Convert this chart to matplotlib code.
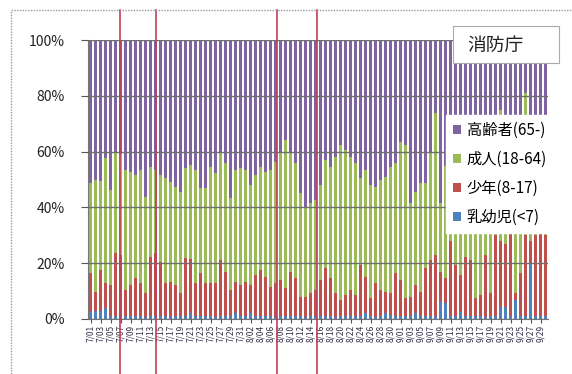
import matplotlib.pyplot as plt
import matplotlib.transforms as mtransforms
import pandas as pd
from matplotlib.lines import Line2D
from matplotlib.patches import Rectangle

plt.rcParams['font.family'] = ['Noto Sans CJK JP', 'DejaVu Sans']

# Daily share of emergency transports by age group (%), Jul 1 - Sep 30
dates = pd.date_range('2010-07-01', '2010-09-30', freq='D')

infant = [2.5, 3.0, 3.0, 3.8, 1.0, 1.0, 0.8, 1.0, 0.9, 1.0, 1.0, 0.8, 1.0, 1.0, 0.9, 1.0,
          0.8, 1.0, 0.9, 1.2, 2.0, 1.0, 0.9, 1.0, 1.0, 0.8, 1.0, 1.0, 0.9, 2.0, 1.0, 1.0,
          2.0, 1.0, 0.9, 1.0, 1.0, 0.8, 1.0, 1.0, 0.9, 1.0, 1.0, 0.8, 1.0, 1.0, 0.9, 1.0,
          1.0, 0.8, 1.0, 1.0, 0.9, 1.0, 1.0, 2.0, 1.0, 0.8, 1.0, 2.0, 1.5, 1.0, 0.9, 1.0,
          1.0, 2.0, 1.0, 0.9, 1.0, 1.0, 6.5, 5.8, 1.0, 1.0, 2.5, 1.0, 0.9, 1.0, 1.0, 0.8,
          1.0, 1.0, 4.3, 4.3, 1.0, 6.8, 1.0, 1.0, 20.0, 1.0, 1.0, 1.0]

youth = [13.9, 6.8, 14.6, 9.0, 11.2, 22.5, 22.2, 9.4, 11.3, 13.6, 11.8, 8.4, 21.3, 22.5, 19.6,
         11.8, 12.6, 11.2, 8.3, 20.5, 19.4, 11.8, 15.5, 11.8, 11.8, 12.0, 20.1, 16.0, 9.5,
         11.4, 11.2, 12.4, 10.2, 14.8, 16.7, 14.2, 10.6, 12.0, 13.0, 10.0, 16.1, 13.6, 7.0,
         7.2, 8.2, 9.4, 13.1, 17.2, 13.6, 8.4, 5.8, 7.6, 9.5, 7.6, 18.4, 13.2, 6.4, 12.0,
         9.4, 7.8, 7.7, 15.4, 13.1, 6.4, 7.0, 10.2, 8.8, 17.3, 20.1, 21.9, 10.5, 8.8, 27.0,
         18.4, 13.3, 21.3, 20.2, 6.4, 7.6, 22.1, 8.4, 29.0, 23.7, 22.7, 31.0, 2.4, 15.4,
         29.0, 8.0, 29.0, 31.0, 29.0]

adult = [32.2, 40.0, 32.0, 44.8, 34.0, 36.5, 36.0, 43.0, 40.6, 37.0, 40.6, 34.6, 32.3, 29.9,
         31.1, 37.6, 35.8, 35.2, 36.4, 32.3, 33.8, 40.6, 30.4, 34.2, 41.8, 39.4, 38.3, 38.8,
         32.8, 40.0, 41.8, 40.0, 35.8, 35.8, 37.0, 37.6, 41.8, 43.6, 46.0, 53.2, 43.0, 41.2,
         37.0, 32.2, 32.2, 32.2, 34.0, 38.8, 40.0, 49.0, 55.6, 52.0, 47.8, 47.2, 31.0, 38.2,
         40.6, 34.6, 39.4, 41.2, 45.4, 39.4, 49.6, 55.0, 33.4, 33.4, 38.8, 30.4, 38.3, 51.1,
         24.4, 40.4, 32.0, 32.6, 42.2, 40.7, 44.9, 47.6, 51.4, 42.1, 48.8, 32.0, 47.0, 41.0,
         28.0, 47.8, 47.6, 51.0, 38.0, 30.0, 40.0, 32.0]

elderly = [51.4, 50.2, 50.4, 42.4, 53.8, 40.0, 41.0, 46.6, 47.2, 48.4, 46.6, 56.2, 45.4, 46.6,
           48.4, 49.6, 50.8, 52.6, 54.4, 46.0, 44.8, 46.6, 53.2, 53.0, 45.4, 47.8, 40.6, 44.2,
           56.8, 46.6, 46.0, 46.6, 52.0, 48.4, 45.4, 47.2, 46.6, 43.6, 40.0, 35.8, 40.0, 44.2,
           55.0, 59.8, 58.6, 57.4, 52.0, 43.0, 45.4, 41.8, 37.6, 39.4, 41.8, 44.2, 49.6, 46.6,
           52.0, 52.6, 50.2, 49.0, 45.4, 44.2, 36.4, 37.6, 58.6, 54.4, 51.4, 51.4, 40.6, 26.0,
           58.6, 45.0, 40.0, 48.0, 42.0, 37.0, 34.0, 45.0, 40.0, 35.0, 42.0, 38.0, 25.0, 32.0,
           40.0, 43.0, 36.0, 19.0, 34.0, 40.0, 28.0, 38.0]

groups = ['乳幼児(<7)', '少年(8-17)', '成人(18-64)', '高齢者(65-)']
colors = ['#4F81BD', '#C0504D', '#9BBB59', '#8064A2']

# days marked with vertical lines (fractional positions between bars)
marked_days = [5.9, 13.1, 37.3, 45.3]

tick_pos = list(range(0, len(dates), 2))
tick_labels = [f'{d.month}/{d.day:02d}' for d in dates[::2]]

fig = plt.figure(figsize=(5.72, 3.74), dpi=100)
ax = fig.add_axes([88 / 572, 1 - 319 / 374, 460 / 572, 279 / 374])

series = [infant, youth, adult, elderly]
x = list(range(len(dates)))
totals = [sum(v) for v in zip(*series)]
bottom = [0.0] * len(x)
handles = []
for vals, name, c in zip(series, groups, colors):
    share = [v / t * 100 for v, t in zip(vals, totals)]
    h = ax.bar(x, share, width=0.62, bottom=bottom, color=c, label=name, linewidth=0)
    handles.append(h)
    bottom = [b + s for b, s in zip(bottom, share)]

ax.set_xlim(-0.5, len(x) - 0.5)
ax.set_ylim(0, 100)
ax.set_yticks(range(0, 101, 20))
ax.set_yticklabels([f'{v}%' for v in range(0, 101, 20)], fontsize=10, color='#222222')
ax.set_xticks(tick_pos)
ax.set_xticklabels(tick_labels, rotation=90, fontsize=6, color='#303048')
ax.tick_params(axis='y', length=5, pad=12, color='#555555')
ax.tick_params(axis='x', length=3, pad=1, color='#555555')

ax.set_axisbelow(False)
ax.yaxis.grid(True, color='#6f6f6f', linewidth=1.0)
for side in ['top', 'right']:
    ax.spines[side].set_visible(False)
ax.spines['left'].set_color('#777777')
ax.spines['bottom'].set_color('#777777')

# outer chart frame
fig.add_artist(Line2D([11 / 572, 11 / 572], [0, 1 - 10 / 374], transform=fig.transFigure,
                      color='#9a9a9a', linewidth=1.0, linestyle=(0, (1, 1))))
fig.add_artist(Line2D([11 / 572, 1], [1 - 10 / 374, 1 - 10 / 374], transform=fig.transFigure,
                      color='#9a9a9a', linewidth=1.0, linestyle=(0, (1, 1))))

# red marker lines running the full height of the chart
trans = mtransforms.blended_transform_factory(ax.transData, fig.transFigure)
for d in marked_days:
    ax.add_line(Line2D([d, d], [0, 1 - 10 / 374], transform=trans, color='#C0405A',
                       linewidth=1.2, clip_on=False, zorder=5))

# legend, top group listed first
leg = fig.legend(handles[::-1], groups[::-1], loc='upper left',
                 bbox_to_anchor=(446 / 572, 1 - 115 / 374), fontsize=11,
                 frameon=True, fancybox=False, framealpha=1, facecolor='white',
                 edgecolor='white', handlelength=0.55, handleheight=0.55,
                 handletextpad=0.35, labelspacing=0.78, borderpad=0.45,
                 borderaxespad=0)
leg.set_zorder(10)

# source box
fig.add_artist(Rectangle((453 / 572, 1 - 63 / 374), 106 / 572, 37 / 374,
                         transform=fig.transFigure, facecolor='white',
                         edgecolor='#aaaaaa', linewidth=0.8, zorder=10))
fig.text(467 / 572, 1 - 45 / 374, '消防庁', fontsize=13.5, va='center', ha='left',
         color='#222222', zorder=11)

fig.savefig('out.png', dpi=100)
